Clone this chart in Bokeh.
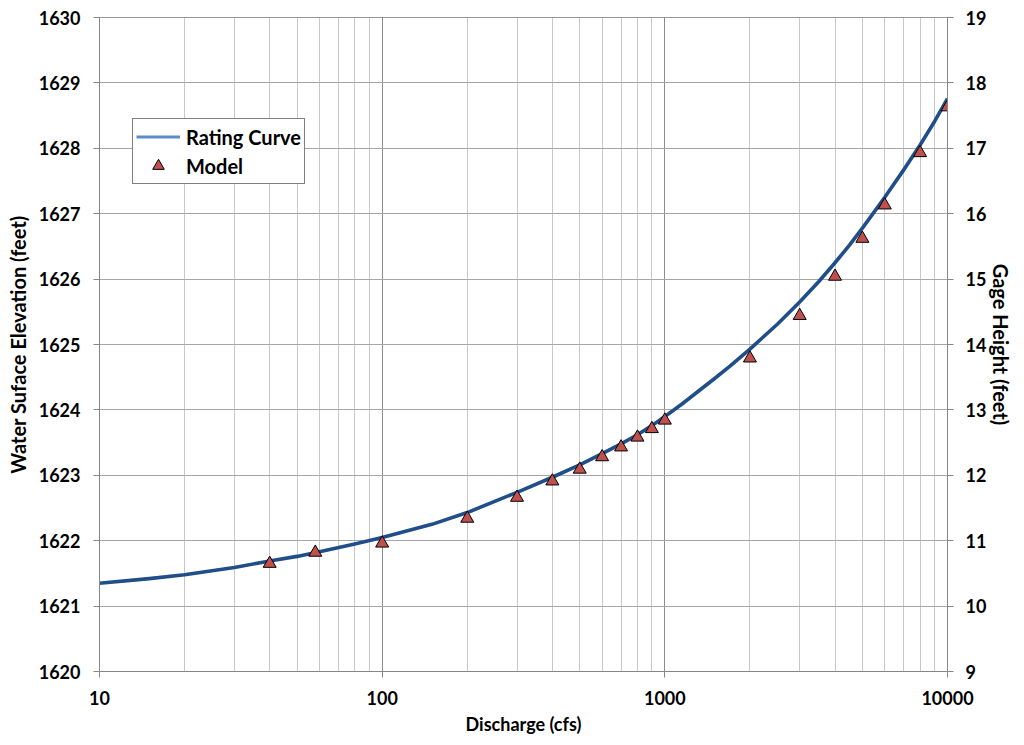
import math
from bokeh.plotting import figure
from bokeh.models import (Range1d, LinearAxis, FixedTicker, NumeralTickFormatter,
                          Legend, LegendItem, Span)
from bokeh.embed import file_html
from bokeh.resources import INLINE

# ---- data ----
curve_q = [10, 15, 20, 30, 40, 50, 60, 80, 100, 150, 200, 300, 400, 500, 600,
           700, 800, 900, 1000, 1070, 1150, 1300, 1500, 1700, 2000, 2500,
           3000, 3500, 4000, 4500, 5000, 6000, 7000, 8000, 9000, 10000]
curve_wse = [1621.35, 1621.42, 1621.48, 1621.59, 1621.69, 1621.76, 1621.83,
             1621.95, 1622.05, 1622.25, 1622.43, 1622.74, 1622.97, 1623.16,
             1623.33, 1623.48, 1623.62, 1623.76, 1623.90, 1623.99, 1624.09,
             1624.27, 1624.48, 1624.67, 1624.93, 1625.31, 1625.65, 1625.96,
             1626.25, 1626.52, 1626.78, 1627.25, 1627.67, 1628.05, 1628.41,
             1628.76]
model_q = [40, 58, 100, 200, 300, 400, 500, 600, 700, 800, 900, 1000,
           2000, 3000, 4000, 5000, 6000, 8000, 10000]
model_wse = [1621.65, 1621.82, 1621.96, 1622.34, 1622.66, 1622.91, 1623.09,
             1623.28, 1623.43, 1623.58, 1623.71, 1623.84, 1624.79, 1625.44,
             1626.04, 1626.62, 1627.13, 1627.93, 1628.63]
x_ticks = [10, 100, 1000, 10000]
x_minor = [20, 30, 40, 50, 60, 70, 80, 90, 200, 300, 400, 500, 600, 700, 800,
           900, 2000, 3000, 4000, 5000, 6000, 7000, 8000, 9000]
wse_ticks = list(range(1620, 1631))
gage_ticks = list(range(9, 20))

FONT = "Lato"
AXIS_GRAY = "#868686"

p = figure(width=1016, height=737, x_axis_type="log",
           x_range=Range1d(10, 10000), y_range=Range1d(1620, 1630),
           output_backend="svg", toolbar_location=None,
           min_border_left=99, min_border_right=68, min_border_top=17,
           min_border_bottom=66)
p.outline_line_color = None
p.background_fill_color = "white"
p.border_fill_color = "white"

p.extra_y_ranges = {"gage": Range1d(9, 19)}
right_axis = LinearAxis(y_range_name="gage")
p.add_layout(right_axis, "right")

# ticks
p.xaxis.ticker = FixedTicker(ticks=x_ticks, minor_ticks=x_minor)
p.xaxis.formatter = NumeralTickFormatter(format="0")
p.yaxis[0].ticker = FixedTicker(ticks=wse_ticks)
right_axis.ticker = FixedTicker(ticks=gage_ticks)

for ax in [p.xaxis[0], p.yaxis[0], right_axis]:
    ax.axis_line_color = AXIS_GRAY
    ax.axis_line_width = 1
    ax.major_tick_line_color = AXIS_GRAY
    ax.major_tick_out = 6
    ax.major_tick_in = 0
    ax.minor_tick_line_color = None
    ax.major_label_text_font = FONT
    ax.major_label_text_font_style = "bold"
    ax.major_label_text_font_size = "18px"
    ax.major_label_text_color = "black"
    ax.axis_label_text_font = FONT
    ax.axis_label_text_font_style = "bold"
    ax.axis_label_text_font_size = "20px"
    ax.axis_label_text_color = "black"

p.xaxis.axis_label = "Discharge (cfs)"
p.xaxis.axis_label_text_font_size = "18px"
p.yaxis[0].axis_label = "Water Suface Elevation (feet)"
right_axis.axis_label = "Gage Height (feet)"
p.xaxis.major_label_standoff = 13
p.xaxis.axis_label_standoff = 5
p.yaxis[0].major_label_standoff = 13
p.yaxis[0].axis_label_standoff = 6
right_axis.major_label_standoff = 12
right_axis.axis_label_standoff = 0

# grids
p.xgrid.grid_line_color = "#8c8c8c"
p.xgrid.grid_line_width = 1
p.xgrid.minor_grid_line_color = "#c8c8c8"
p.xgrid.minor_grid_line_width = 1
p.ygrid.grid_line_color = "#a6a6a6"
p.ygrid.grid_line_width = 1

p.add_layout(Span(location=1630, dimension="width", line_color="#303030",
                  line_width=1))

# data
curve = p.line(curve_q, curve_wse, line_color="#1f4e89", line_width=3.6,
               line_join="round")
legend_line = p.line(x=[10, 10], y=[math.nan, math.nan],
                     line_color="#5b8bc9", line_width=3)
pts = p.scatter(model_q, model_wse, marker="triangle", size=13,
                fill_color="#c0504d", line_color="black", line_width=1)

legend = Legend(items=[LegendItem(label="Rating Curve", renderers=[legend_line]),
                       LegendItem(label="Model", renderers=[pts])],
                location=(33, 487))
legend.border_line_color = "black"
legend.border_line_width = 1
legend.background_fill_color = "white"
legend.background_fill_alpha = 1
legend.label_text_font = FONT
legend.label_text_font_style = "bold"
legend.label_text_font_size = "20px"
legend.label_text_color = "black"
legend.glyph_width = 44
legend.glyph_height = 29
legend.label_height = 29
legend.label_standoff = 6
legend.padding = 3
legend.spacing = 0
legend.margin = 0
p.add_layout(legend, "center")

open("out.html", "w").write(file_html(p, INLINE))
